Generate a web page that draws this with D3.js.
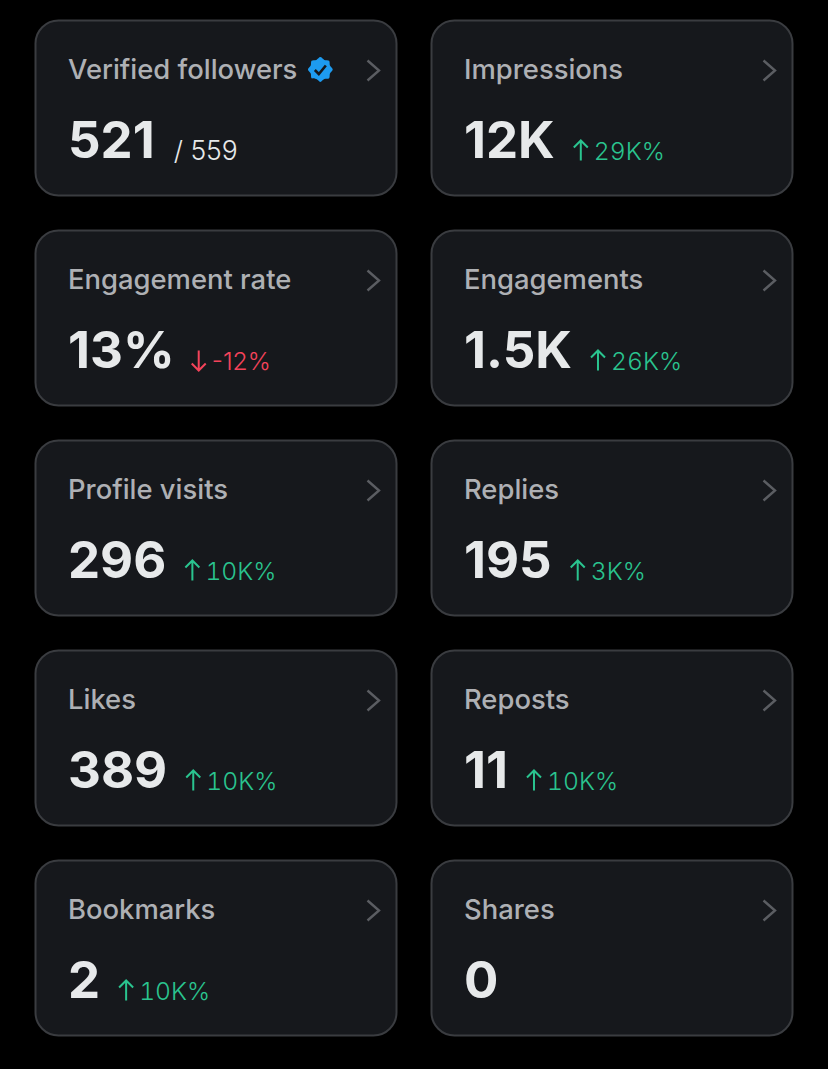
<!DOCTYPE html>
<html>
<head>
<meta charset="utf-8">
<script src="https://cdnjs.cloudflare.com/ajax/libs/d3/7.8.5/d3.min.js"></script>
<style>
  html, body { margin: 0; padding: 0; background: #000; }
  svg { display: block; }
  text { font-family: Inter, Roboto, sans-serif; }
  .delta-up { font-variant-numeric: tabular-nums; }
</style>
</head>
<body>
<div id="cards"></div>
<script>
const labels = ['Verified followers', 'Impressions', 'Engagement rate', 'Engagements', 'Profile visits',
  'Replies', 'Likes', 'Reposts', 'Bookmarks', 'Shares'];
const values = ['521', '12K', '13%', '1.5K', '296', '195', '389', '11', '2', '0'];
const deltas = ['/ 559', '29K%', '-12%', '26K%', '10K%', '3K%', '10K%', '10K%', '10K%', ''];
const trends = ['total', 'up', 'down', 'up', 'up', 'up', 'up', 'up', 'up', 'none'];

const width = 828;
const height = 1069;
const cardW = 362;
const cardH = 176;

const x = d3.scalePoint().domain([0, 1]).range([35, 431]);
const y = d3.scalePoint().domain([0, 1, 2, 3, 4]).range([20, 860]);

const trendColor = {total: '#e7e9ea', up: '#2ac48f', down: '#f4435a', none: 'none'};

const svg = d3.select('#cards')
  .append('svg')
    .attr('width', width)
    .attr('height', height);

const cards = svg.selectAll('g.card')
  .data(labels.map((label, i) => ({
    label, value: values[i], delta: deltas[i], trend: trends[i], i
  })))
  .join('g')
    .attr('class', 'card')
    .attr('transform', d => `translate(${x(d.i % 2) + 0.5}, ${y(Math.floor(d.i / 2)) + 0.5})`);

cards.append('rect')
  .attr('width', cardW - 1)
  .attr('height', cardH - 1)
  .attr('rx', 23)
  .attr('fill', '#16181c')
  .attr('stroke', '#3a3c40')
  .attr('stroke-width', 2);

cards.append('text')
  .attr('class', 'label')
  .attr('x', 32.5)
  .attr('y', 58)
  .attr('font-size', 27.4)
  .attr('font-weight', 500)
  .attr('fill', '#aeb0b4')
  .text(d => d.label);

cards.append('text')
  .attr('class', 'value')
  .attr('x', 32.5)
  .attr('y', 137)
  .attr('font-size', 51)
  .attr('font-weight', 700)
  .attr('fill', '#e7e9ea')
  .text(d => d.value);

// chevron at the right of every card
cards.append('path')
  .attr('d', 'M332 40 L343.5 50 L332 60')
  .attr('fill', 'none')
  .attr('stroke', '#5b5d62')
  .attr('stroke-width', 2.4);

// delta sits just after the big number
cards.each(function(d) {
  if (d.trend === 'none') return;
  const g = d3.select(this);
  const end = 32.5 + g.select('text.value').node().getComputedTextLength();
  const color = trendColor[d.trend];
  if (d.trend === 'total') {
    g.append('text')
      .attr('x', end + 19)
      .attr('y', 139.5)
      .attr('font-size', 26.5)
      .attr('font-weight', 300)
      .attr('fill', color)
      .text(d.delta);
    return;
  }
  const ax = end + (d.trend === 'up' ? 26 : 24);
  const arrow = d.trend === 'up'
    ? `M${ax} 140 V120 M${ax - 7} 127 L${ax} 120 L${ax + 7} 127`
    : `M${ax} 120 V140 M${ax - 7} 133 L${ax} 140 L${ax + 7} 133`;
  g.append('path')
    .attr('d', arrow)
    .attr('fill', 'none')
    .attr('stroke', color)
    .attr('stroke-width', 2);
  g.append('text')
    .attr('class', `delta-${d.trend}`)
    .attr('x', ax + 13)
    .attr('y', 139.5)
    .attr('font-size', 24.7)
    .attr('font-weight', 300)
    .attr('fill', color)
    .text(d.delta);
});

// verified badge next to the first label
const badge = cards.filter(d => d.i === 0).append('g')
  .attr('transform', function() {
    const w = d3.select(this.parentNode).select('text.label').node().getComputedTextLength();
    return `translate(${32.5 + w + 23}, 49)`;
  });
const badgePoints = d3.range(16).map(k => {
  const r = k % 2 ? 10.4 : 12.4;
  const a = k * Math.PI / 8;
  return [r * Math.sin(a), -r * Math.cos(a)];
});
badge.append('path')
  .attr('d', d3.line().curve(d3.curveCatmullRomClosed)(badgePoints))
  .attr('fill', '#1d9bf0');
badge.append('path')
  .attr('d', 'M-5.5 0.5 L-1.5 4.5 L5.5 -4')
  .attr('fill', 'none')
  .attr('stroke', '#16181c')
  .attr('stroke-width', 2.6);
</script>
</body>
</html>
